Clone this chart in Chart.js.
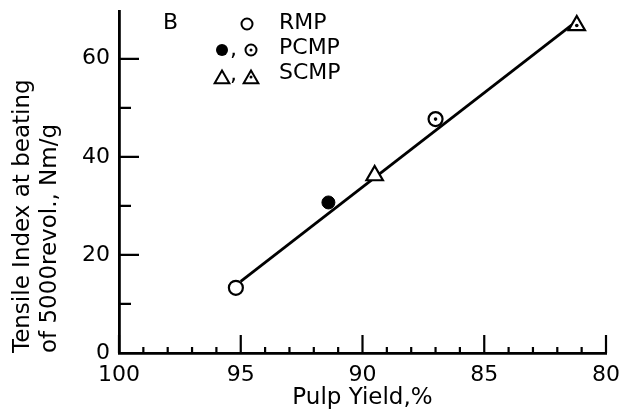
<!DOCTYPE html>
<html>
<head>
<meta charset="utf-8">
<script src="https://cdn.jsdelivr.net/npm/chart.js@4.4.0/dist/chart.umd.min.js"></script>
<style>
html, body { margin: 0; padding: 0; background: #fff; }
</style>
</head>
<body>
<canvas id="myChart" width="636" height="414"></canvas>
<script>
// values (pulp yield %, tensile index Nm/g)
const rmpX = [95.2];
const rmpY = [13.3];
const pcmpFilledX = [91.4];
const pcmpFilledY = [30.7];
const pcmpDotX = [87.0];
const pcmpDotY = [47.7];
const scmpOpenX = [89.5];
const scmpOpenY = [36.2];
const scmpDotX = [81.2];
const scmpDotY = [66.8];
const fitX = [95.0, 81.4];
const fitY = [14.6, 66.9];

const xTicks = [100, 95, 90, 85, 80];
const xMinorTicks = [99, 98, 97, 96, 94, 93, 92, 91, 89, 88, 87, 86, 84, 83, 82, 81];
const yTicks = [0, 20, 40, 60];
const yMinorTicks = [10, 30, 50];

const FONT = "DejaVu Sans";

function pts(xs, ys) {
  return xs.map((v, i) => ({ x: v, y: ys[i] }));
}

// ticks in this figure point inwards, so draw them from the scales
const inTicks = {
  id: "inTicks",
  afterDatasetsDraw(chart) {
    const { ctx, chartArea, scales: { x, y } } = chart;
    ctx.save();
    ctx.strokeStyle = "#000";
    ctx.lineWidth = 2.2;
    ctx.beginPath();
    xTicks.forEach(v => {
      const px = x.getPixelForValue(v);
      ctx.moveTo(px, chartArea.bottom);
      ctx.lineTo(px, chartArea.bottom - 18);
    });
    xMinorTicks.forEach(v => {
      const px = x.getPixelForValue(v);
      ctx.moveTo(px, chartArea.bottom);
      ctx.lineTo(px, chartArea.bottom - 6);
    });
    yTicks.forEach(v => {
      const py = y.getPixelForValue(v);
      ctx.moveTo(chartArea.left, py);
      ctx.lineTo(chartArea.left + 20, py);
    });
    yMinorTicks.forEach(v => {
      const py = y.getPixelForValue(v);
      ctx.moveTo(chartArea.left, py);
      ctx.lineTo(chartArea.left + 12, py);
    });
    ctx.stroke();
    ctx.restore();
  }
};

function circle(ctx, x, y, r, fill) {
  ctx.beginPath();
  ctx.arc(x, y, r, 0, Math.PI * 2);
  if (fill) { ctx.fillStyle = "#000"; ctx.fill(); }
  else ctx.stroke();
}

function triangle(ctx, x, y, r) {
  ctx.beginPath();
  ctx.moveTo(x, y - r);
  ctx.lineTo(x + 0.866 * r, y + 0.5 * r);
  ctx.lineTo(x - 0.866 * r, y + 0.5 * r);
  ctx.closePath();
  ctx.stroke();
}

// key block in the upper left
const keyBlock = {
  id: "keyBlock",
  afterDraw(chart) {
    const ctx = chart.ctx;
    ctx.save();
    ctx.fillStyle = "#000";
    ctx.strokeStyle = "#000";
    ctx.lineWidth = 2;
    ctx.font = "22px " + FONT;
    ctx.textBaseline = "middle";
    ctx.textAlign = "left";
    ctx.fillText("B", 163, 23);
    ctx.fillText("RMP", 279, 23);
    ctx.fillText("PCMP", 279, 48);
    ctx.fillText("SCMP", 279, 73);
    ctx.fillText(",", 230, 50);
    ctx.fillText(",", 230, 75);

    circle(ctx, 247, 24, 5.5, false);
    circle(ctx, 222, 50, 6, true);
    circle(ctx, 251, 50, 5.5, false);
    circle(ctx, 251, 50, 1.5, true);
    triangle(ctx, 222, 79, 8.5);
    triangle(ctx, 251, 79, 8.5);
    circle(ctx, 251, 77, 1.5, true);
    ctx.restore();
  }
};

const ctx = document.getElementById("myChart").getContext("2d");
const myChart = new Chart(ctx, {
  type: "scatter",
  data: {
    datasets: [
      {
        label: "dots",
        data: pts(pcmpDotX, pcmpDotY).concat(pts(scmpDotX, scmpDotY)),
        pointStyle: "circle",
        pointRadius: 1.8,
        backgroundColor: "#000",
        borderColor: "#000",
        borderWidth: 0
      },
      {
        label: "RMP",
        data: pts(rmpX, rmpY),
        pointStyle: "circle",
        pointRadius: 7,
        backgroundColor: "#fff",
        borderColor: "#000",
        borderWidth: 2.2
      },
      {
        label: "PCMP filled",
        data: pts(pcmpFilledX, pcmpFilledY),
        pointStyle: "circle",
        pointRadius: 6.5,
        backgroundColor: "#000",
        borderColor: "#000",
        borderWidth: 1
      },
      {
        label: "PCMP dot",
        data: pts(pcmpDotX, pcmpDotY),
        pointStyle: "circle",
        pointRadius: 7,
        backgroundColor: "#fff",
        borderColor: "#000",
        borderWidth: 2.2
      },
      {
        label: "SCMP open",
        data: pts(scmpOpenX, scmpOpenY),
        pointStyle: "triangle",
        pointRadius: 9.5,
        backgroundColor: "#fff",
        borderColor: "#000",
        borderWidth: 2.2
      },
      {
        label: "SCMP dot",
        data: pts(scmpDotX, scmpDotY),
        pointStyle: "triangle",
        pointRadius: 9.5,
        backgroundColor: "#fff",
        borderColor: "#000",
        borderWidth: 2.2
      },
      {
        label: "fit",
        data: pts(fitX, fitY),
        showLine: true,
        borderColor: "#000",
        borderWidth: 2.8,
        pointRadius: 0
      }
    ]
  },
  options: {
    responsive: false,
    animation: false,
    layout: { padding: { top: 6, right: 30, left: 0, bottom: 0 } },
    plugins: {
      legend: { display: false },
      tooltip: { enabled: false }
    },
    scales: {
      x: {
        type: "linear",
        min: 80,
        max: 100,
        reverse: true,
        afterBuildTicks: s => { s.ticks = xTicks.map(v => ({ value: v })); },
        afterFit: s => { s.height = 61; s.paddingLeft = 0; s.paddingRight = 0; },
        grid: { display: false, drawTicks: false },
        border: { display: true, color: "#000", width: 2.8 },
        ticks: {
          color: "#000",
          font: { family: FONT, size: 22 },
          padding: 9,
          maxRotation: 0,
          autoSkip: false
        },
        title: {
          display: true,
          text: "Pulp Yield,%",
          color: "#000",
          font: { family: FONT, size: 23 },
          padding: { top: 0, bottom: 2 }
        }
      },
      y: {
        min: 0,
        max: 69.6,
        afterBuildTicks: s => { s.ticks = yTicks.map(v => ({ value: v })); },
        afterFit: s => { s.width = 119; s.paddingTop = 0; s.paddingBottom = 0; },
        grid: { display: false, drawTicks: false },
        border: { display: true, color: "#000", width: 2.8 },
        ticks: {
          color: "#000",
          font: { family: FONT, size: 22 },
          padding: 9
        },
        title: {
          display: true,
          text: ["Tensile Index at beating", "of 5000revol., Nm/g"],
          align: "start",
          color: "#000",
          font: { family: FONT, size: 23, lineHeight: 1.17 },
          padding: { top: 10, bottom: 0 }
        }
      }
    }
  },
  plugins: [inTicks, keyBlock]
});
</script>
</body>
</html>
